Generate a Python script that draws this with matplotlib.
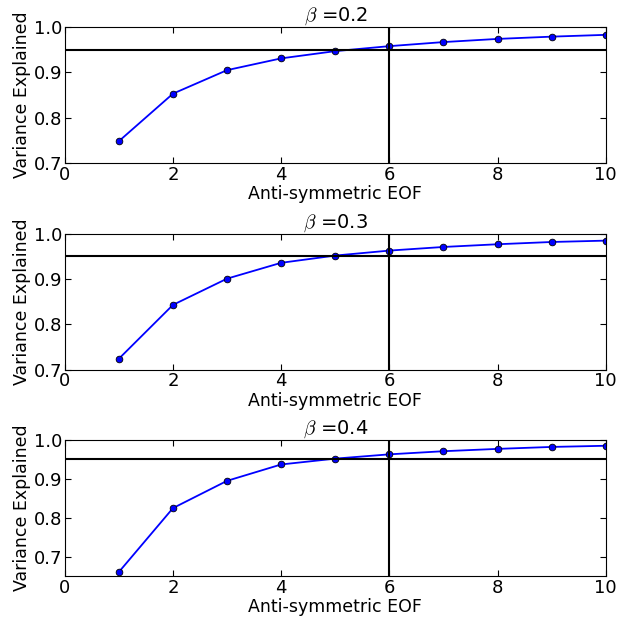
import numpy as np
import matplotlib
matplotlib.use("Agg")
import matplotlib.pyplot as plt

# EOF index and cumulative variance explained for each beta
eof = [1, 2, 3, 4, 5, 6, 7, 8, 9, 10]
betas = ["0.2", "0.3", "0.4"]
var_02 = [0.748, 0.853, 0.905, 0.931, 0.947, 0.958, 0.967, 0.974, 0.979, 0.983]
var_03 = [0.724, 0.843, 0.901, 0.936, 0.952, 0.963, 0.971, 0.977, 0.982, 0.985]
var_04 = [0.661, 0.825, 0.895, 0.937, 0.952, 0.963, 0.971, 0.977, 0.982, 0.985]
ylows = [0.7, 0.7, 0.65]
yticks = [0.7, 0.8, 0.9, 1.0]
threshold = 0.95
cutoff = 6


def main():
    plt.rcParams['xtick.direction'] = 'in'
    plt.rcParams['ytick.direction'] = 'in'
    plt.rcParams['xtick.top'] = True
    plt.rcParams['ytick.right'] = True
    plt.rcParams['xtick.major.size'] = 4
    plt.rcParams['ytick.major.size'] = 4
    plt.rcParams['xtick.major.pad'] = 2
    plt.rcParams['ytick.major.pad'] = 2
    plt.rcParams['mathtext.fontset'] = 'cm'

    fig = plt.figure(figsize=(6.29, 6.17), dpi=100)

    series = [var_02, var_03, var_04]
    # (bottom, top) of each panel as figure fractions
    boxes = [(0.736, 0.956), (0.401, 0.621), (0.066, 0.287)]

    for i, vals in enumerate(series):
        bot, top = boxes[i]
        ax = fig.add_axes([0.103, bot, 0.860, top - bot])
        ax.plot(eof, vals, 'b-o', lw=1.3, markersize=4.8,
                markeredgecolor='k', markeredgewidth=0.6)
        ax.axhline(threshold, color='k', lw=1.5)
        ax.axvline(cutoff, color='k', lw=1.5)
        ax.set_xlim(0, 10)
        ax.set_ylim(ylows[i], 1.0)
        ax.set_yticks(yticks)
        ax.set_xticks([0, 2, 4, 6, 8, 10])
        ax.tick_params(labelsize=13)
        ax.set_xlabel("Anti-symmetric EOF", fontsize=12.5, labelpad=1)
        ax.set_ylabel("Variance Explained", fontsize=12.5, labelpad=2)
        ax.set_title(r"$\beta$ =" + betas[i], fontsize=14, pad=2)

    fig.savefig("out.png", dpi=100)


if __name__ == "__main__":
    main()
